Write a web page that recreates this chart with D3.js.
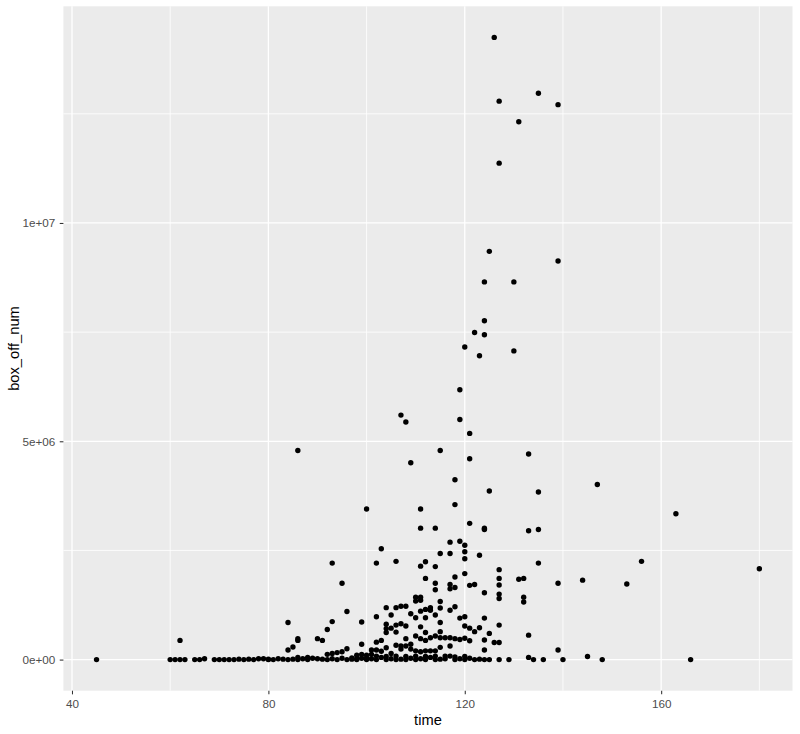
<!DOCTYPE html>
<html>
<head>
<meta charset="utf-8">
<script src="https://cdn.jsdelivr.net/npm/d3@7"></script>
<style>
  html, body { margin: 0; padding: 0; background: #ffffff; }
  svg { display: block; }
</style>
</head>
<body>
<svg id="chart" width="800" height="734"></svg>
<script>
// ---- data (time in minutes, box office values grouped per time) ----
const times = [45, 60, 61, 62, 63, 65, 66, 67, 69, 70, 71, 72, 73, 74, 75, 76, 77, 78, 79, 80,
  81, 82, 83, 84, 85, 86, 87, 88, 89, 90, 91, 92, 93, 94, 95, 96, 97, 98, 99, 100,
  101, 102, 103, 104, 105, 106, 107, 108, 109, 110, 111, 112, 113, 114, 115, 116, 117, 118, 119, 120,
  121, 122, 123, 124, 125, 126, 127, 129, 130, 131, 132, 133, 134, 135, 136, 139, 140, 144, 145, 147,
  148, 153, 156, 163, 166, 180];

const boxOffNum = [
  [0],                                   // 45
  [0],                                   // 60
  [0],                                   // 61
  [0, 440000],                           // 62
  [0],                                   // 63
  [0],                                   // 65
  [0],                                   // 66
  [20000],                               // 67
  [0],                                   // 69
  [0],                                   // 70
  [0],                                   // 71
  [0],                                   // 72
  [0],                                   // 73
  [10000],                               // 74
  [0],                                   // 75
  [10000],                               // 76
  [0],                                   // 77
  [20000],                               // 78
  [20000],                               // 79
  [0, 10000],                            // 80
  [0],                                   // 81
  [20000],                               // 82
  [10000],                               // 83
  [0, 220000, 850000],                   // 84
  [10000, 290000],                       // 85
  [0, 50000, 440000, 480000, 4790000],   // 86
  [20000],                               // 87
  [0, 50000],                            // 88
  [30000],                               // 89
  [20000, 480000],                       // 90
  [10000, 440000],                       // 91
  [0, 120000, 690000],                   // 92
  [20000, 140000, 870000, 2210000],      // 93
  [0, 160000],                           // 94
  [30000, 180000, 1750000],              // 95
  [0, 250000, 1100000],                  // 96
  [10000, 40000],                        // 97
  [0, 20000, 100000],                    // 98
  [30000, 120000, 350000, 860000],       // 99
  [0, 30000, 100000, 3450000],           // 100
  [20000, 120000, 220000],               // 101
  [0, 80000, 220000, 400000, 980000, 2210000],          // 102
  [50000, 190000, 440000, 2540000],                     // 103
  [0, 70000, 270000, 620000, 710000, 810000, 1190000],  // 104
  [20000, 140000, 720000, 1020000],                     // 105
  [0, 80000, 330000, 630000, 790000, 1190000, 2250000], // 106
  [10000, 240000, 310000, 820000, 1220000, 5600000],    // 107
  [0, 70000, 310000, 480000, 770000, 1220000, 5440000], // 108
  [30000, 240000, 350000, 1050000, 4510000],            // 109
  [0, 80000, 200000, 540000, 960000, 1340000, 1430000], // 110
  [20000, 180000, 480000, 750000, 1110000, 1360000, 1430000, 2140000, 3010000, 3450000], // 111
  [0, 70000, 200000, 440000, 620000, 960000, 1150000, 1860000, 2240000],                 // 112
  [50000, 200000, 500000, 1130000, 1190000],                                             // 113
  [0, 80000, 200000, 540000, 1020000, 1600000, 1750000, 2130000, 3010000],               // 114
  [10000, 280000, 500000, 640000, 850000, 1180000, 1330000, 2430000, 4790000],           // 115
  [20000, 80000, 500000],                                                                // 116
  [80000, 310000, 500000, 1130000, 1620000, 1720000, 2430000, 2690000],                  // 117
  [0, 60000, 480000, 1210000, 1650000, 1890000, 3550000, 4120000],                       // 118
  [20000, 460000, 950000, 2710000, 5500000, 6180000],                                    // 119
  [0, 70000, 490000, 770000, 980000, 1970000, 2310000, 2470000, 2620000, 7160000],       // 120
  [30000, 430000, 720000, 1700000, 3120000, 4600000, 5180000],                           // 121
  [0, 640000, 1720000, 7490000],                                                         // 122
  [10000, 730000, 2390000, 6960000],                                                     // 123
  [0, 220000, 450000, 950000, 1530000, 2980000, 3010000, 7440000, 7760000, 8650000],     // 124
  [0, 600000, 3860000, 9350000],                                                         // 125
  [390000, 14250000],                                                                    // 126
  [0, 390000, 790000, 1400000, 1500000, 1710000, 1860000, 2060000, 11370000, 12790000],  // 127
  [0],                                   // 129
  [7070000, 8650000],                    // 130
  [1840000, 12320000],                   // 131
  [1320000, 1430000, 1860000],           // 132
  [50000, 560000, 2950000, 4710000],     // 133
  [0],                                   // 134
  [2210000, 2980000, 3840000, 12970000], // 135
  [0],                                   // 136
  [220000, 1750000, 9130000, 12710000],  // 139
  [0],                                   // 140
  [1820000],                             // 144
  [70000],                               // 145
  [4010000],                             // 147
  [0],                                   // 148
  [1730000],                             // 153
  [2250000],                             // 156
  [3340000],                             // 163
  [0],                                   // 166
  [2080000]                              // 180
];

const xTicks = [40, 80, 120, 160];
const xTickLabels = ["40", "80", "120", "160"];
const xMinor = [60, 100, 140, 180];
const yTicks = [0, 5000000, 10000000];
const yTickLabels = ["0e+00", "5e+06", "1e+07"];
const yMinor = [2500000, 7500000, 12500000];
const xTitle = "time";
const yTitle = "box_off_num";

// ---- build points ----
const points = [];
times.forEach((t, i) => boxOffNum[i].forEach(v => points.push({ time: t, value: v })));

// ---- layout ----
const W = 800, H = 734;
const panel = { left: 63.4, right: 792.5, top: 6.3, bottom: 690.7 };
const FONT = "Arial, 'Liberation Sans', Helvetica, sans-serif";

const xExt = d3.extent(points, d => d.time);
const yExt = d3.extent(points, d => d.value);
const xPad = (xExt[1] - xExt[0]) * 0.05;
const yPad = (yExt[1] - yExt[0]) * 0.05;

const x = d3.scaleLinear().domain([xExt[0] - xPad, xExt[1] + xPad]).range([panel.left, panel.right]);
const y = d3.scaleLinear().domain([yExt[0] - yPad, yExt[1] + yPad]).range([panel.bottom, panel.top]);

const svg = d3.select("#chart");
svg.append("rect").attr("width", W).attr("height", H).attr("fill", "#ffffff");

// panel background
svg.append("rect")
  .attr("x", panel.left).attr("y", panel.top)
  .attr("width", panel.right - panel.left).attr("height", panel.bottom - panel.top)
  .attr("fill", "#EBEBEB");

const grid = svg.append("g");
// minor grid
grid.selectAll("line.xminor").data(xMinor).join("line")
  .attr("x1", d => x(d)).attr("x2", d => x(d))
  .attr("y1", panel.top).attr("y2", panel.bottom)
  .attr("stroke", "#ffffff").attr("stroke-width", 0.8);
grid.selectAll("line.yminor").data(yMinor).join("line")
  .attr("y1", d => y(d)).attr("y2", d => y(d))
  .attr("x1", panel.left).attr("x2", panel.right)
  .attr("stroke", "#ffffff").attr("stroke-width", 0.8);
// major grid
grid.selectAll("line.xmajor").data(xTicks).join("line")
  .attr("x1", d => x(d)).attr("x2", d => x(d))
  .attr("y1", panel.top).attr("y2", panel.bottom)
  .attr("stroke", "#ffffff").attr("stroke-width", 1.3);
grid.selectAll("line.ymajor").data(yTicks).join("line")
  .attr("y1", d => y(d)).attr("y2", d => y(d))
  .attr("x1", panel.left).attr("x2", panel.right)
  .attr("stroke", "#ffffff").attr("stroke-width", 1.3);

// points
svg.append("g").selectAll("circle").data(points).join("circle")
  .attr("cx", d => x(d.time))
  .attr("cy", d => y(d.value))
  .attr("r", 2.7)
  .attr("fill", "#000000");

// axes
const xAxis = d3.axisBottom(x).tickValues(xTicks)
  .tickFormat((d, i) => xTickLabels[i]).tickSizeOuter(0).tickSize(3.66).tickPadding(5.2);
const gx = svg.append("g").attr("transform", `translate(0,${panel.bottom})`).call(xAxis);
gx.select(".domain").remove();
gx.selectAll(".tick line").attr("stroke", "#333333").attr("stroke-width", 1.07);
gx.selectAll(".tick text").attr("fill", "#4D4D4D").style("font-family", FONT).style("font-size", "11.7px");

const yAxis = d3.axisLeft(y).tickValues(yTicks)
  .tickFormat((d, i) => yTickLabels[i]).tickSizeOuter(0).tickSize(3.66).tickPadding(4.4);
const gy = svg.append("g").attr("transform", `translate(${panel.left},0)`).call(yAxis);
gy.select(".domain").remove();
gy.selectAll(".tick line").attr("stroke", "#333333").attr("stroke-width", 1.07);
gy.selectAll(".tick text").attr("fill", "#4D4D4D").style("font-family", FONT).style("font-size", "11.7px");

// axis titles
svg.append("text")
  .attr("x", (panel.left + panel.right) / 2).attr("y", 725)
  .attr("text-anchor", "middle")
  .style("font-family", FONT).style("font-size", "14.7px").attr("fill", "#000000")
  .text(xTitle);

svg.append("text")
  .attr("transform", `translate(19,${(panel.top + panel.bottom) / 2}) rotate(-90)`)
  .attr("text-anchor", "middle")
  .style("font-family", FONT).style("font-size", "14.7px").attr("fill", "#000000")
  .text(yTitle);
</script>
</body>
</html>
